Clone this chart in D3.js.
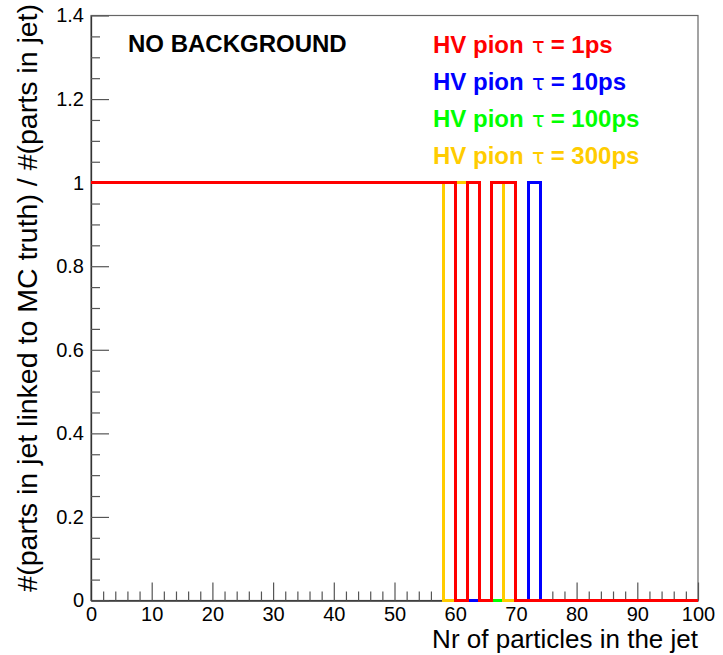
<!DOCTYPE html>
<html><head><meta charset="utf-8">
<script src="https://cdn.jsdelivr.net/npm/d3@7"></script>
<style>body{margin:0;background:#fff}svg{display:block}</style>
</head><body>
<svg id="c" width="723" height="655"></svg>
<script>
// bin lower edges (width 2)
const binEdges = [0,2,4,6,8,10,12,14,16,18,20,22,24,26,28,30,32,34,36,38,40,42,44,46,48,50,52,54,56,58,60,62,64,66,68,70,72,74,76,78,80,82,84,86,88,90,92,94,96,98];
const binWidth = 2;
const valsBlue = [1,1,1,1,1,1,1,1,1,1, 1,1,1,1,1,1,1,1,1,1, 1,1,1,1,1,1,1,1,1,1, 1,0,0,1,1,0,1,0,0,0, 0,0,0,0,0,0,0,0,0,0];
const valsGreen = [1,1,1,1,1,1,1,1,1,1, 1,1,1,1,1,1,1,1,1,1, 1,1,1,1,1,1,1,1,1,1, 1,1,0,0,0,0,0,0,0,0, 0,0,0,0,0,0,0,0,0,0];
const valsYellow = [1,1,1,1,1,1,1,1,1,1, 1,1,1,1,1,1,1,1,1,1, 1,1,1,1,1,1,1,1,1,0, 1,1,0,1,0,0,0,0,0,0, 0,0,0,0,0,0,0,0,0,0];
const valsRed = [1,1,1,1,1,1,1,1,1,1, 1,1,1,1,1,1,1,1,1,1, 1,1,1,1,1,1,1,1,1,1, 0,1,0,1,1,0,0,0,0,0, 0,0,0,0,0,0,0,0,0,0];
const seriesNames = ["10ps","100ps","300ps","1ps"]; // draw order
const legendLabels = ["1ps","10ps","100ps","300ps"];
const xMajorTicks = [0,10,20,30,40,50,60,70,80,90,100];
const xMinorTicks = [2,4,6,8,12,14,16,18,22,24,26,28,32,34,36,38,42,44,46,48,52,54,56,58,62,64,66,68,72,74,76,78,82,84,86,88,92,94,96,98];
const yMajorTicks = [0,0.2,0.4,0.6,0.8,1,1.2,1.4];
const yMinorTicks = [0.05,0.1,0.15,0.25,0.3,0.35,0.45,0.5,0.55,0.65,0.7,0.75,0.85,0.9,0.95,1.05,1.1,1.15,1.25,1.3,1.35];

const colors = {"1ps":"#ff0000","10ps":"#0000ff","100ps":"#00ff00","300ps":"#ffcc00"};
const values = {"1ps":valsRed,"10ps":valsBlue,"100ps":valsGreen,"300ps":valsYellow};

const svg = d3.select("#c");
const L=91, R=698, T=15.5, B=600.5;
const x = d3.scaleLinear().domain([0,100]).range([L,R]);
const y = d3.scaleLinear().domain([0,1.4]).range([B,T]);
const font = "Liberation Sans, Arial, sans-serif";

// frame
svg.append("rect").attr("x",L).attr("y",T).attr("width",R-L).attr("height",B-T)
  .attr("fill","none").attr("stroke","#666").attr("stroke-width",1.2);

// axes
function styleAxis(g){
  g.selectAll("path.domain").attr("stroke","#333").attr("stroke-width",1.3);
  g.selectAll(".tick line").attr("stroke","#555").attr("stroke-width",1.2);
  g.selectAll("text").attr("font-family",font).attr("font-size",20).attr("fill","#000");
}
const xAxis = svg.append("g").attr("transform",`translate(0,${B})`)
  .call(d3.axisBottom(x).tickValues(xMajorTicks).tickSize(-18).tickSizeOuter(0).tickPadding(6).tickFormat(d3.format("d")));
styleAxis(xAxis);
const xMinor = svg.append("g").attr("transform",`translate(0,${B})`)
  .call(d3.axisBottom(x).tickValues(xMinorTicks).tickSize(-9).tickSizeOuter(0).tickFormat(""));
styleAxis(xMinor); xMinor.select("path.domain").remove();

const yAxis = svg.append("g").attr("transform",`translate(${L},0)`)
  .call(d3.axisLeft(y).tickValues(yMajorTicks).tickSize(-18).tickSizeOuter(0).tickPadding(7).tickFormat(d=>String(+d.toFixed(2))));
styleAxis(yAxis);
const yMinor = svg.append("g").attr("transform",`translate(${L},0)`)
  .call(d3.axisLeft(y).tickValues(yMinorTicks).tickSize(-9).tickSizeOuter(0).tickFormat(""));
styleAxis(yMinor); yMinor.select("path.domain").remove();

// histograms
const line = d3.line().x(d=>x(d[0])).y(d=>y(d[1])).curve(d3.curveStepAfter);
seriesNames.forEach(name=>{
  const v = values[name];
  const pts = binEdges.map((e,i)=>[e,v[i]]);
  pts.push([binEdges[binEdges.length-1]+binWidth, v[v.length-1]]);
  svg.append("path").attr("d",line(pts)).attr("fill","none")
    .attr("stroke",colors[name]).attr("stroke-width",3).attr("stroke-linejoin","miter")
    .attr("shape-rendering","crispEdges");
});

// axis titles
svg.append("text").attr("x",R).attr("y",648).attr("text-anchor","end")
  .attr("font-family",font).attr("font-size",26).text("Nr of particles in the jet");
svg.append("text").attr("transform",`translate(37,4) rotate(-90)`).attr("text-anchor","end")
  .attr("font-family",font).attr("font-size",28.5).text("#(parts in jet linked to MC truth) / #(parts in jet)");

// labels
svg.append("text").attr("x",128).attr("y",52).attr("font-family",font).attr("font-weight","bold")
  .attr("font-size",24).text("NO BACKGROUND");
const legY = [53,90,127,164];
legendLabels.forEach((lab,i)=>{
  const t = svg.append("text").attr("x",433).attr("y",legY[i]).attr("font-family",font)
    .attr("font-size",24).attr("font-weight","bold").attr("fill",colors[lab]);
  t.append("tspan").text("HV pion");
  t.append("tspan").attr("x",532).attr("font-weight","normal").attr("font-family","DejaVu Sans, sans-serif").attr("font-size",21).text("τ");
  t.append("tspan").attr("dx",6).text("= "+lab);
});
</script>
</body></html>
